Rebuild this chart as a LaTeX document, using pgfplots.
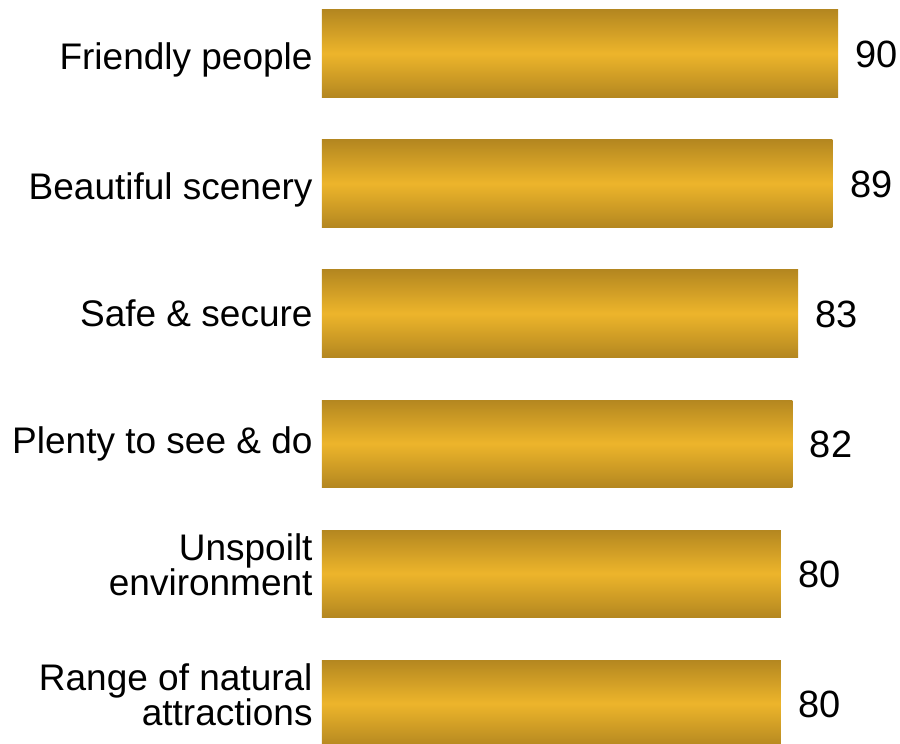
\documentclass[border=0pt]{standalone}
\usepackage{pgfplots}
\pgfplotsset{compat=1.18}
\usepackage{fontspec}
\setmainfont{Liberation Sans}
\definecolor{goldD}{RGB}{180,135,32}
\definecolor{goldL}{RGB}{237,181,43}
\newcommand{\twoline}[2]{\raisebox{9pt}[\height][\depth]{\vbox{\halign{\hfil##\cr #1\cr #2\cr}}}}
\newcommand{\down}[1]{\raisebox{-6pt}[\height][\depth]{#1}}
\begin{document}
\begin{tikzpicture}
\useasboundingbox (0,0) rectangle (900pt,744pt);
\begin{axis}[
  at={(322pt,755.5pt)}, anchor=north west,
  scale only axis, width=573.5pt, height=780pt,
  xmin=0, xmax=100, ymin=-0.5, ymax=5.5, y dir=reverse,
  xbar, bar width=87pt, bar shift=0pt,
  axis line style={draw=none}, xtick=\empty,
  ytick={0,...,5}, ytick style={draw=none},
  yticklabels={{\down{Friendly people}},{\down{Beautiful scenery}},{Safe \& secure},{Plenty to see \& do},{\twoline{Unspoilt}{environment}},{\twoline{Range of natural}{attractions}}},
  yticklabel style={inner sep=0pt, xshift=-5pt, font=\fontsize{37}{35}\selectfont},
  /pgf/number format/assume math mode=true,
  nodes near coords,
  nodes near coords style={anchor=west, inner sep=0pt, xshift=17.5pt, yshift=-1pt, font=\fontsize{38}{40}\selectfont, text=black},
  clip=false,
  every axis plot/.append style={draw=none, top color=goldD, bottom color=goldD, middle color=goldL},
]
\addplot coordinates {(90,0)};
\addplot coordinates {(89,1)};
\addplot coordinates {(83,2)};
\addplot coordinates {(82,3)};
\addplot coordinates {(80,4)};
\addplot coordinates {(80,5)};
\end{axis}
\end{tikzpicture}
\end{document}
